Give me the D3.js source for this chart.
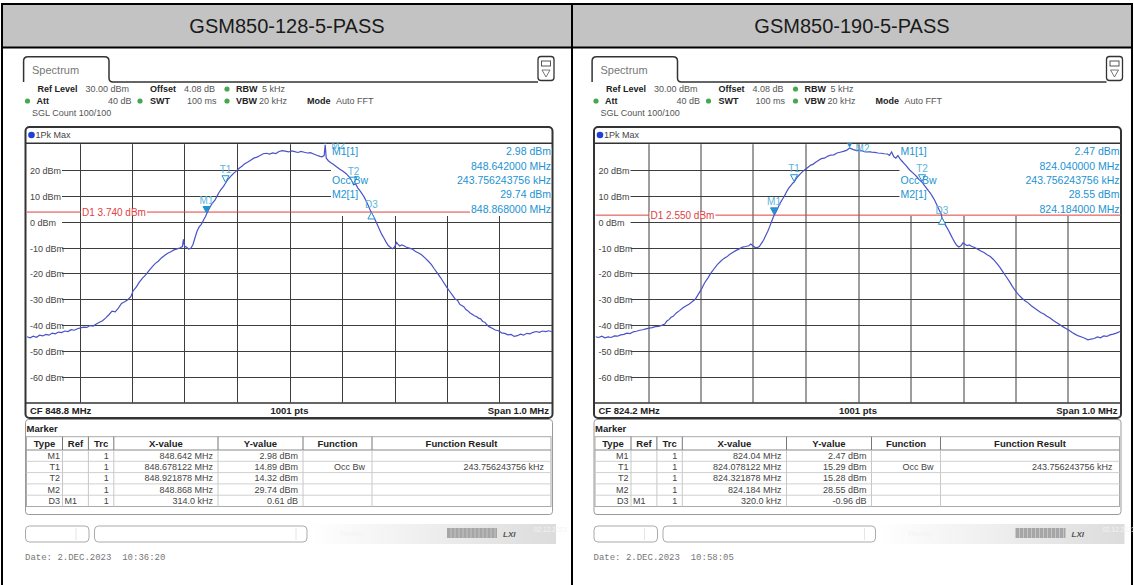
<!DOCTYPE html>
<html><head><meta charset="utf-8">
<script src="https://cdn.jsdelivr.net/npm/d3@7"></script>
<style>body{margin:0;background:#fff}svg{display:block;font-family:"Liberation Sans",Arial,sans-serif}</style>
</head><body><svg id="c" width="1134" height="585"></svg>
<script>
// ---------------- DATA ----------------
const panelTitles = ["GSM850-128-5-PASS", "GSM850-190-5-PASS"];
const centerFreqsMHz = [848.8, 824.2];
const spanMHz = 1.0;
const refLevelDbm = 30, bottomLevelDbm = -70;
const yTickValues = [20, 10, 0, -10, -20, -30, -40, -50, -60];
const d1Levels = [3.740, 2.550];
const dateStrings = ["Date: 2.DEC.2023  10:36:20", "Date: 2.DEC.2023  10:58:05"];

// trace 1 (left): offset from CF in kHz, level in dBm
const leftTraceOffsetsKHz = [-500,-494,-488,-482,-476,-470,-464,-458,-452,-446,-440,-434,-428,-422,-416,-410,-404,-398,-392,-386,-380,-374,-368,-362,-356,-350,-344,-338,-332,-326,-320,-314,-308,-302,-298,-292,-286,-280,-274,-268,-262,-256,-250,-244,-238,-232,-226,-220,-214,-208,-204,-202,-200,-196,-192,-188,-184,-180,-176,-172,-168,-164,-160,-158,-154,-150,-146,-142,-138,-134,-130,-126,-122,-118,-114,-110,-106,-102,-98,-94,-90,-86,-80,-74,-68,-62,-56,-50,-44,-38,-32,-26,-20,-14,-8,-2,4,10,16,22,28,34,40,46,52,58,62,66,68,70,74,78,84,90,96,102,108,114,118,122,126,130,134,138,142,146,150,153,156,160,164,168,172,176,180,184,188,192,196,200,204,206,210,214,218,222,228,234,240,246,252,258,264,270,276,282,288,294,300,306,312,316,320,324,328,332,336,340,344,348,352,356,360,364,368,372,376,380,386,392,398,404,410,416,422,428,434,440,446,452,458,464,470,476,482,488,494,500];
const leftTraceLevels = [-44.5,-44.9,-44.3,-44.7,-43.9,-44.2,-43.6,-43.9,-43.1,-43.4,-42.7,-42.9,-42.3,-42.5,-41.8,-42.0,-41.4,-41.1,-40.8,-40.9,-40.2,-40.4,-39.6,-38.9,-38.3,-37.2,-36.0,-34.6,-34.9,-33.4,-31.6,-31.0,-30.2,-28.9,-26.8,-25.3,-23.4,-21.8,-20.6,-19.0,-17.6,-16.2,-15.3,-14.0,-13.1,-12.2,-11.6,-10.9,-10.5,-10.1,-9.6,-6.8,-9.4,-9.9,-10.6,-10.3,-8.9,-6.2,-3.6,-2.0,-1.0,0.6,2.0,3.0,4.6,6.2,7.4,8.3,9.9,11.4,12.6,13.6,14.9,16.2,17.1,18.0,18.8,19.5,20.3,21.0,21.6,22.3,23.0,23.8,24.6,25.0,25.6,26.3,26.5,26.2,26.6,26.4,27.2,27.5,27.3,27.0,27.4,27.1,26.8,27.2,26.9,26.6,26.7,26.2,25.7,25.3,25.1,25.6,29.74,24.6,23.6,22.9,22.1,21.2,20.3,19.5,18.6,17.3,16.2,14.3,14.6,13.1,12.0,10.9,9.6,8.0,6.3,4.8,3.6,2.0,0.4,-1.5,-3.3,-5.0,-6.4,-7.9,-9.2,-9.9,-10.5,-9.8,-8.0,-8.6,-9.4,-9.0,-9.3,-9.8,-10.2,-10.6,-11.5,-12.1,-12.9,-14.0,-15.2,-16.5,-18.3,-20.0,-21.7,-23.6,-25.5,-27.2,-28.9,-30.0,-30.4,-31.9,-32.4,-32.9,-34.0,-34.5,-35.3,-35.8,-36.4,-36.7,-37.3,-37.6,-38.6,-38.9,-39.9,-40.6,-41.2,-41.9,-42.2,-43.0,-43.2,-43.8,-43.6,-44.4,-44.1,-43.5,-43.9,-43.2,-43.4,-42.8,-42.5,-42.8,-42.3,-42.5,-42.2,-42.6];

// trace 2 (right)
const rightTraceOffsetsKHz = [-500,-494,-488,-482,-476,-470,-464,-458,-452,-446,-440,-434,-428,-422,-416,-410,-404,-398,-392,-386,-380,-374,-368,-364,-360,-356,-352,-346,-340,-334,-328,-322,-316,-310,-304,-298,-292,-286,-280,-274,-268,-262,-256,-250,-244,-238,-232,-226,-220,-214,-208,-204,-200,-196,-192,-188,-184,-180,-176,-172,-168,-164,-160,-156,-152,-148,-144,-140,-136,-132,-128,-124,-122,-118,-114,-110,-106,-102,-98,-94,-90,-86,-80,-74,-70,-64,-58,-52,-46,-40,-34,-28,-22,-16,-10,-4,2,8,14,20,26,32,38,44,50,56,60,64,68,72,76,80,84,88,92,96,100,104,108,112,116,122,126,130,134,138,142,146,150,154,158,160,164,168,172,176,180,184,188,192,196,200,204,208,212,216,222,228,234,240,246,252,258,264,270,276,282,288,294,300,306,312,318,324,330,336,342,348,354,360,366,372,378,384,390,396,402,408,414,420,426,432,438,444,450,456,462,468,474,480,486,492,498,500];
const rightTraceLevels = [-44.5,-44.8,-44.3,-44.9,-44.6,-44.8,-44.2,-44.3,-43.8,-43.6,-43.1,-43.3,-42.6,-42.4,-42.0,-41.8,-41.5,-41.2,-41.0,-40.6,-40.5,-40.1,-39.6,-38.4,-37.9,-37.0,-36.6,-35.3,-34.4,-33.4,-32.6,-31.9,-31.0,-30.0,-28.0,-26.0,-23.6,-21.8,-19.8,-18.2,-16.6,-15.4,-14.3,-13.6,-12.6,-11.8,-11.1,-10.5,-9.8,-9.6,-9.3,-8.6,-9.4,-9.9,-10.0,-9.6,-8.4,-7.2,-5.4,-3.8,-1.8,0.4,2.47,3.9,5.6,7.3,8.7,10.0,11.6,13.0,14.0,15.0,15.29,16.6,17.6,18.5,19.3,20.0,20.6,21.3,21.9,22.2,23.1,23.9,24.4,24.6,25.3,25.8,25.9,26.6,26.9,27.2,27.6,28.55,28.0,27.6,27.6,27.4,27.0,27.1,26.9,26.8,26.6,26.5,26.3,26.2,25.7,27.0,25.2,24.6,25.6,24.3,23.4,22.5,21.6,20.6,19.7,19.0,18.2,17.4,16.4,15.28,14.2,13.1,12.0,11.0,9.7,8.3,6.6,4.8,3.2,1.51,-0.2,-1.8,-3.2,-4.8,-6.4,-7.9,-9.1,-9.8,-9.3,-8.2,-8.8,-9.2,-9.0,-9.5,-10.0,-10.6,-11.3,-11.9,-12.8,-13.5,-14.6,-16.0,-17.6,-19.4,-21.2,-23.0,-25.0,-26.8,-28.3,-29.5,-30.6,-31.4,-32.5,-33.4,-34.3,-35.1,-35.7,-36.6,-37.3,-38.2,-39.0,-39.8,-40.6,-41.3,-42.0,-42.9,-43.6,-44.2,-44.6,-45.1,-45.7,-45.4,-45.2,-44.6,-44.9,-44.2,-44.4,-43.8,-43.5,-43.1,-42.6,-42.4];

// markers: frequency (MHz), level (dBm), kind
const leftMarkers = [
  {id:"M1", f:848.642, v:2.98, kind:"fill"},
  {id:"T1", f:848.678122, v:14.89, kind:"open"},
  {id:"T2", f:848.921878, v:14.32, kind:"open"},
  {id:"M2", f:848.868, v:29.74, kind:"fill"},
  {id:"D3", f:848.956, v:3.59, kind:"delta"}];
const rightMarkers = [
  {id:"M1", f:824.040, v:2.47, kind:"fill"},
  {id:"T1", f:824.078122, v:15.29, kind:"open"},
  {id:"T2", f:824.321878, v:15.28, kind:"open"},
  {id:"M2", f:824.184, v:28.55, kind:"fill"},
  {id:"D3", f:824.360, v:1.51, kind:"delta"}];

const infoLabels = ["M1[1]", "", "Occ Bw", "M2[1]", ""];
const leftInfoValues = ["2.98 dBm", "848.642000 MHz", "243.756243756 kHz", "29.74 dBm", "848.868000 MHz"];
const rightInfoValues = ["2.47 dBm", "824.040000 MHz", "243.756243756 kHz", "28.55 dBm", "824.184000 MHz"];

const tableHeader = ["Type", "Ref", "Trc", "X-value", "Y-value", "Function", "Function Result"];
const leftTableRows = [
  ["M1","","1","848.642 MHz","2.98 dBm","",""],
  ["T1","","1","848.678122 MHz","14.89 dBm","Occ Bw","243.756243756 kHz"],
  ["T2","","1","848.921878 MHz","14.32 dBm","",""],
  ["M2","","1","848.868 MHz","29.74 dBm","",""],
  ["D3","M1","1","314.0 kHz","0.61 dB","",""]];
const rightTableRows = [
  ["M1","","1","824.04 MHz","2.47 dBm","",""],
  ["T1","","1","824.078122 MHz","15.29 dBm","Occ Bw","243.756243756 kHz"],
  ["T2","","1","824.321878 MHz","15.28 dBm","",""],
  ["M2","","1","824.184 MHz","28.55 dBm","",""],
  ["D3","M1","1","320.0 kHz","-0.96 dB","",""]];

const panels = [
  {title:panelTitles[0], cf:centerFreqsMHz[0], d1:d1Levels[0], offs:leftTraceOffsetsKHz, lv:leftTraceLevels, markers:leftMarkers, info:leftInfoValues, rows:leftTableRows, date:dateStrings[0]},
  {title:panelTitles[1], cf:centerFreqsMHz[1], d1:d1Levels[1], offs:rightTraceOffsetsKHz, lv:rightTraceLevels, markers:rightMarkers, info:rightInfoValues, rows:rightTableRows, date:dateStrings[1]}];

// ---------------- LAYOUT ----------------
const svg = d3.select("#c");
const columns = [{x0:3, x1:571, dx:0}, {x0:573, x1:1131, dx:568.5}];
svg.append("rect").attr("width",1134).attr("height",585).attr("fill","#fff");
svg.append("rect").attr("x",3).attr("y",5).attr("width",1128).attr("height",42).attr("fill","#c3c3c3");
const border = svg.append("g").attr("stroke","#000").attr("stroke-width",2);
border.append("line").attr("x1",1).attr("x2",1133).attr("y1",4).attr("y2",4);
border.append("line").attr("x1",1).attr("x2",1133).attr("y1",47.5).attr("y2",47.5);
[2, 572, 1132].forEach(x => border.append("line").attr("x1",x).attr("x2",x).attr("y1",3).attr("y2",585));

const MC = "#2293d2", MLC = "#5db4dc", TRACE = "#4a52c6", GRID = "#3d3d3d";

panels.forEach((p, i) => {
  const col = columns[i];
  svg.append("text").attr("x",(col.x0+col.x1)/2).attr("y",33).attr("text-anchor","middle")
    .attr("font-size",20).attr("fill","#1a1a1a").text(p.title);
  const g = svg.append("g").attr("transform",`translate(${col.dx},0)`);
  const L = 27, R = 552, TOP = 144.2, BOT = 402.6;
  const x = d3.scaleLinear().domain([p.cf - spanMHz/2, p.cf + spanMHz/2]).range([L, R]);
  const y = d3.scaleLinear().domain([bottomLevelDbm, refLevelDbm]).range([BOT, TOP]);

  // tab
  g.append("path").attr("d","M23.6,82 L23.6,61 Q23.6,56.7 28,56.7 L104.5,56.7 Q109,56.7 109,61 L109,78 Q109,82 113,82 L538,82")
    .attr("fill","none").attr("stroke","#333").attr("stroke-width",1.5);
  g.append("text").attr("x",32).attr("y",74).attr("font-size",11).attr("fill","#777").text("Spectrum");
  g.append("rect").attr("x",538).attr("y",56.5).attr("width",16).attr("height",24).attr("rx",3)
    .attr("fill","#fff").attr("stroke","#333").attr("stroke-width",1.3);
  g.append("rect").attr("x",541.5).attr("y",61).attr("width",9).attr("height",5).attr("fill","none").attr("stroke","#555").attr("stroke-width",1);
  g.append("path").attr("d","M542,70 L550,70 L546,77 Z").attr("fill","none").attr("stroke","#555").attr("stroke-width",0.8);

  // setting rows
  const st = g.append("g").attr("font-size",9).attr("fill","#555");
  const rowsTxt = [
    [[37.5,89,"Ref Level",1],[85.5,89,"30.00 dBm",0],[150,89,"Offset",1],[184,89,"4.08 dB",0],[236,89,"RBW",1],[262,89,"5 kHz",0]],
    [[36.5,101,"Att",1],[108,101,"40 dB",0],[150,101,"SWT",1],[187,101,"100 ms",0],[236,101,"VBW",1],[259,101,"20 kHz",0],[307,101,"Mode",1],[336,101,"Auto FFT",0]],
    [[32,113,"SGL Count 100/100",0]]];
  rowsTxt.flat().forEach(t => st.append("text").attr("x",t[0]).attr("y",t[1]+3).attr("font-weight",t[3]?"bold":"normal")
    .attr("fill",t[3]?"#222":"#555").text(t[2]));
  [[227,89],[27.5,101],[140,101],[227,101]].forEach(d => g.append("circle").attr("cx",d[0]).attr("cy",d[1]).attr("r",2.6).attr("fill","#46a84e"));

  // plot frame
  g.append("rect").attr("x",25.5).attr("y",127).attr("width",527).attr("height",291).attr("rx",4)
    .attr("fill","#fff").attr("stroke","#333").attr("stroke-width",2);
  g.append("circle").attr("cx",31.5).attr("cy",135).attr("r",3.3).attr("fill","#1f3fd6");
  g.append("text").attr("x",35.5).attr("y",138.3).attr("font-size",9).attr("fill","#444").text("1Pk Max");

  const clipId = "clip" + i;
  g.append("clipPath").attr("id",clipId).append("rect").attr("x",L).attr("y",TOP-1).attr("width",R-L).attr("height",BOT-TOP+1);

  const BOXX = L + 304, BOXB = 216;
  // grid
  const grid = g.append("g").attr("stroke",GRID).attr("stroke-width",1);
  d3.range(1, 10).map(k => p.cf - spanMHz/2 + k*spanMHz/10).forEach(f => {
    const xx = Math.round(x(f)) + 0.5;
    grid.append("line").attr("x1",xx).attr("x2",xx).attr("y1", xx > BOXX ? BOXB : TOP).attr("y2",BOT);
  });
  yTickValues.forEach(v => {
    const yy = Math.round(y(v)) + 0.5;
    grid.append("line").attr("x1",L+35).attr("x2", yy < BOXB ? BOXX : R).attr("y1",yy).attr("y2",yy);
    g.append("text").attr("x",L+3).attr("y",yy+3.2).attr("font-size",9).attr("fill","#444").text(`${v} dBm`);
  });
  g.append("line").attr("x1",26).attr("x2",552.5).attr("y1",143.3).attr("y2",143.3).attr("stroke","#333").attr("stroke-width",1.5);
  g.append("line").attr("x1",26).attr("x2",552.5).attr("y1",BOT+0.5).attr("y2",BOT+0.5).attr("stroke","#333").attr("stroke-width",1.5);

  // D1 line
  const yd = y(p.d1);
  g.append("line").attr("x1",L).attr("x2",R).attr("y1",yd).attr("y2",yd).attr("stroke","#e0413f").attr("stroke-width",1);
  const d1t = g.append("text").attr("x",L+55).attr("y",yd+3.6).attr("font-size",10).attr("fill","#e0413f").text(`D1  ${p.d1.toFixed(3)} dBm`);
  const bb = d1t.node().getBBox();
  g.insert("rect", () => d1t.node()).attr("x",bb.x-1).attr("y",yd-3).attr("width",bb.width+2).attr("height",6).attr("fill","#fff");

  // trace
  const pts = p.offs.map((o, k) => ({f: p.cf + o/1000, v: p.lv[k]}));
  g.append("path").datum(pts).attr("clip-path",`url(#${clipId})`)
    .attr("d", d3.line().x(d => x(d.f)).y(d => y(d.v)))
    .attr("fill","none").attr("stroke",TRACE).attr("stroke-width",1.2);

  // markers
  const mg = g.append("g").attr("clip-path",`url(#${clipId})`);
  p.markers.forEach(m => {
    const mx = x(m.f), my = y(m.v);
    if (m.kind === "delta") {
      mg.append("path").attr("d",`M${mx},${my} L${mx+3.5},${my+6.5} L${mx-3.5},${my+6.5} Z`)
        .attr("fill","#fff").attr("stroke",MC).attr("stroke-width",1);
      mg.append("text").attr("x",mx).attr("y",my-4).attr("text-anchor","middle").attr("font-size",10).attr("fill",MLC).text(m.id);
    } else {
      const ty = my - 1;
      mg.append("path").attr("d",`M${mx},${ty} L${mx+3.5},${ty-6.5} L${mx-3.5},${ty-6.5} Z`)
        .attr("fill", m.kind === "fill" ? MC : "#fff").attr("stroke",MC).attr("stroke-width",1);
      if (ty - 18 > TOP) {
        mg.append("text").attr("x",mx).attr("y",ty-9).attr("text-anchor","middle").attr("font-size",10).attr("fill",MLC).text(m.id);
      } else {
        mg.append("text").attr("x",mx+6).attr("y",my+4).attr("font-size",10).attr("fill",MLC).text(m.id);
      }
    }
  });

  // info box texts
  const infoY = [151.7, 165.9, 180.2, 194.6, 208.9];
  infoLabels.forEach((t, k) => {
    if (t) g.append("text").attr("x",BOXX+1).attr("y",infoY[k]+3.6).attr("font-size",10.5).attr("fill",MC).text(t);
  });
  p.info.forEach((t, k) => {
    const tx = g.append("text").attr("x",R-1).attr("y",infoY[k]+3.6).attr("text-anchor","end").attr("font-size",10.5).attr("fill",MC).text(t);
    const b = tx.node().getBBox();
    g.insert("rect", () => tx.node()).attr("x",b.x-1).attr("y",infoY[k]-4).attr("width",b.width+1).attr("height",8).attr("fill","#fff");
  });

  // bottom band
  const bt = g.append("g").attr("font-size",9.5).attr("font-weight","bold").attr("fill","#222");
  bt.append("text").attr("x",30).attr("y",414).text(`CF ${p.cf.toFixed(1)} MHz`);
  bt.append("text").attr("x",(L+R)/2).attr("y",414).attr("text-anchor","middle").text("1001 pts");
  bt.append("text").attr("x",R-3).attr("y",414).attr("text-anchor","end").text(`Span ${spanMHz.toFixed(1)} MHz`);

  // marker table panel
  g.append("rect").attr("x",25.5).attr("y",419.5).attr("width",527).attr("height",95).attr("rx",3)
    .attr("fill","none").attr("stroke","#999").attr("stroke-width",1);
  g.append("text").attr("x",26.5).attr("y",431.5).attr("font-size",9.5).attr("font-weight","bold").attr("fill","#222").text("Marker");
  const edges = [26.5, 62.5, 88.4, 113.8, 218, 303, 372, 551];
  const hTop = 436.7, hBot = 450, rowH = 11.3;
  const tb = g.append("g");
  tb.append("rect").attr("x",edges[0]).attr("y",hTop).attr("width",edges[7]-edges[0]).attr("height",hBot-hTop+5*rowH)
    .attr("fill","none").attr("stroke","#aaa");
  tb.append("line").attr("x1",edges[0]).attr("x2",edges[7]).attr("y1",hBot).attr("y2",hBot).attr("stroke","#888");
  for (let r = 1; r < 5; r++) tb.append("line").attr("x1",edges[0]).attr("x2",edges[7]).attr("y1",hBot+r*rowH).attr("y2",hBot+r*rowH).attr("stroke","#d0d0d0");
  edges.slice(1, 7).forEach(e => {
    tb.append("line").attr("x1",e).attr("x2",e).attr("y1",hTop).attr("y2",hBot).attr("stroke","#777");
    tb.append("line").attr("x1",e).attr("x2",e).attr("y1",hBot).attr("y2",hBot+5*rowH).attr("stroke","#c8c8c8");
  });
  tableHeader.forEach((h, k) => tb.append("text").attr("x",(edges[k]+edges[k+1])/2).attr("y",hTop+9.8)
    .attr("text-anchor","middle").attr("font-size",9.5).attr("font-weight","bold").attr("fill","#222").text(h));
  p.rows.forEach((row, r) => row.forEach((c, k) => {
    if (!c) return;
    const left = k === 1;
    const pad = k === 0 ? 2.5 : (k >= 5 ? 7 : 5);
    tb.append("text").attr("x", left ? edges[k]+2 : edges[k+1]-pad).attr("y",hBot+(r+1)*rowH-2.6)
      .attr("text-anchor", left ? "start" : "end").attr("font-size",9).attr("fill","#444").text(c);
  }));

  // status bar
  const defs = g.append("defs");
  const gr = defs.append("linearGradient").attr("id","sg"+i);
  gr.append("stop").attr("offset","0").attr("stop-color","#fff");
  gr.append("stop").attr("offset","1").attr("stop-color","#dcdcdc");
  g.append("rect").attr("x",310).attr("y",524).attr("width",246).attr("height",20).attr("fill",`url(#sg${i})`);
  g.append("rect").attr("x",25.5).attr("y",526).attr("width",63.5).attr("height",16).attr("rx",4).attr("fill","#fff").attr("stroke","#aaa");
  g.append("line").attr("x1",76).attr("x2",76).attr("y1",528).attr("y2",540).attr("stroke","#e4e4e4");
  g.append("rect").attr("x",94.5).attr("y",526).attr("width",212.5).attr("height",16).attr("rx",4).attr("fill","#fff").attr("stroke","#aaa");
  g.append("line").attr("x1",296).attr("x2",296).attr("y1",528).attr("y2",540).attr("stroke","#e4e4e4");
  g.append("text").attr("x",340).attr("y",536).attr("font-size",8).attr("fill","#f4f4f4").text("Ready");
  g.append("rect").attr("x",447).attr("y",528).attr("width",50).attr("height",10).attr("fill","#a6a6a6");
  d3.range(451, 497, 4).forEach(sx => g.append("line").attr("x1",sx).attr("x2",sx).attr("y1",528).attr("y2",538).attr("stroke","#c4c4c4"));
  g.append("text").attr("x",503).attr("y",537).attr("font-size",8).attr("font-style","italic").attr("font-weight","bold").attr("fill","#555").text("LXI");
  g.append("text").attr("x",534).attr("y",532).attr("font-size",6.5).attr("fill","#f4f4f4").text("02.12.2023");

  g.append("text").attr("x",25).attr("y",560).attr("font-family","'Liberation Mono','DejaVu Sans Mono',monospace")
    .attr("font-size",9).attr("fill","#777").attr("xml:space","preserve").text(p.date);
});
</script></body></html>
